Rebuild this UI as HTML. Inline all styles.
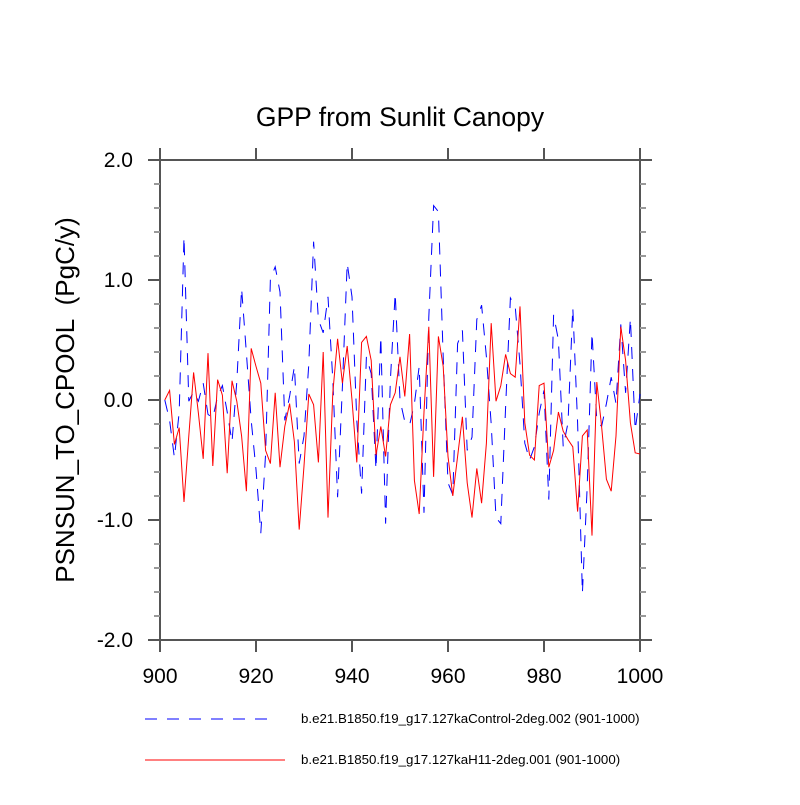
<!DOCTYPE html>
<html><head><meta charset="utf-8"><style>
body{margin:0;background:#fff;}
svg text{font-family:"Liberation Sans",sans-serif;}
</style></head><body>
<svg id="chart" width="800" height="800" xmlns="http://www.w3.org/2000/svg">
<rect width="800" height="800" fill="#fff"/>
<text x="400" y="126" font-size="26.5" text-anchor="middle">GPP from Sunlit Canopy</text>
<text transform="translate(74,400) rotate(-90)" font-size="26" text-anchor="middle" xml:space="preserve">PSNSUN_TO_CPOOL  (PgC/y)</text>
<g id="axes"></g>
<g id="series"></g>
<line x1="145" y1="719" x2="275" y2="719" stroke="#0000ff" stroke-width="1" stroke-dasharray="12,10"/>
<text x="301" y="723" font-size="13.3">b.e21.B1850.f19_g17.127kaControl-2deg.002 (901-1000)</text>
<line x1="145" y1="760" x2="285" y2="760" stroke="#ff0000" stroke-width="1"/>
<text x="301" y="764" font-size="13.3">b.e21.B1850.f19_g17.127kaH11-2deg.001 (901-1000)</text>
</svg>
<script>
const years = Array.from({length:100},(_,i)=>901+i);
const controlValues = [0.0,-0.17,-0.48,-0.1,1.36,-0.01,0.07,-0.01,0.14,-0.12,
-0.15,0.03,0.12,-0.1,-0.35,0.15,0.93,0.39,-0.17,-0.58,
-1.11,-0.45,1.01,1.11,0.9,-0.17,0.03,0.28,-0.53,-0.3,
0.3,1.32,0.67,0.56,0.86,0.17,-0.81,0.11,1.14,0.86,
-0.17,-0.78,0.36,0.22,-0.58,0.53,-1.03,0.17,0.89,0.0,
-0.18,-0.21,-0.03,0.28,-0.94,0.69,1.62,1.57,0.36,-0.69,
-0.79,0.47,0.58,-0.42,-0.31,0.67,0.79,0.36,-0.2,-0.98,
-1.03,-0.06,0.85,0.78,0.3,-0.36,-0.5,-0.39,-0.11,0.08,
-0.83,0.71,0.5,-0.39,-0.19,0.77,-0.19,-1.61,-0.72,0.56,
-0.17,-0.22,-0.03,0.19,-0.03,0.63,0.06,0.68,-0.25,0.05];
const h11Values = [0.0,0.08,-0.37,-0.23,-0.85,-0.3,0.23,-0.11,-0.49,0.39,
-0.55,0.17,0.04,-0.61,0.16,-0.01,-0.3,-0.76,0.43,0.28,
0.14,-0.42,-0.53,0.06,-0.56,-0.22,-0.03,-0.35,-1.08,-0.55,
0.05,-0.04,-0.52,0.4,-0.98,0.06,0.51,0.14,0.45,0.0,
-0.52,0.48,0.53,0.33,-0.46,-0.22,-0.47,-0.04,0.06,0.36,
0.03,0.55,-0.67,-0.95,-0.1,0.61,-0.64,0.53,0.28,-0.47,
-0.8,-0.47,-0.14,-0.69,-0.98,-0.57,-0.86,-0.36,0.64,-0.01,
0.12,0.38,0.22,0.19,0.78,-0.19,-0.46,-0.5,0.12,0.14,
-0.56,-0.42,-0.1,-0.26,-0.33,-0.39,-0.93,-0.3,-0.25,-1.13,
0.15,-0.22,-0.66,-0.76,-0.3,0.61,0.33,-0.19,-0.44,-0.45];
const xTickLabels = [900,920,940,960,980,1000];
const yTickValues = [-2,-1,0,1,2];
const yTickLabels = ["-2.0","-1.0","0.0","1.0","2.0"];

const L=160,R=640,T=160,B=640;
const xs = v => L + (v-900)/100*(R-L);
const ys = v => B - (v+2)/4*(B-T);
const NS="http://www.w3.org/2000/svg";
function mk(tag, attrs, parent){const e=document.createElementNS(NS,tag);for(const k in attrs)e.setAttribute(k,attrs[k]);parent.appendChild(e);return e;}
const axes=document.getElementById('axes');
const ac="#555";
const fr=mk('rect',{x:L,y:T,width:R-L,height:B-T,fill:'none',stroke:ac,'stroke-width':2},axes);


xTickLabels.forEach(v=>{
  const x=xs(v);
  const t1=mk('line',{x1:x,y1:B,x2:x,y2:B+12,stroke:ac,'stroke-width':2},axes);
  
  
  const t2=mk('line',{x1:x,y1:T,x2:x,y2:T-12,stroke:ac,'stroke-width':2},axes);
  
  
  const tx=mk('text',{x:x,y:B+43,'font-size':21,'text-anchor':'middle'},axes);
  tx.textContent=v;
  
  
});
for(let v=-2;v<=2.001;v+=0.2){
  const y=ys(v);
  const major=Math.abs(v-Math.round(v))<1e-6;
  const len=major?12:6;
  const a=mk('line',{x1:L,y1:y,x2:L-len,y2:y,stroke:major?ac:'#999','stroke-width':2},axes);
  
  
  const b=mk('line',{x1:R,y1:y,x2:R+len,y2:y,stroke:major?ac:'#999','stroke-width':2},axes);
  
  
}
yTickValues.forEach((v,i)=>{
  const tx=mk('text',{x:133,y:ys(v)+7,'font-size':21,'text-anchor':'end'},axes);
  tx.textContent=yTickLabels[i];
  
  
});
const ser=document.getElementById('series');
function pts(vals){return vals.map((v,i)=>xs(years[i]).toFixed(1)+','+ys(v).toFixed(1)).join(' ');}
const c=mk('polyline',{points:pts(controlValues),fill:'none',stroke:'#0000ff','stroke-width':1,'stroke-dasharray':'12,10'},ser);


const h=mk('polyline',{points:pts(h11Values),fill:'none',stroke:'#ff0000','stroke-width':1},ser);


</script>
</body></html>
